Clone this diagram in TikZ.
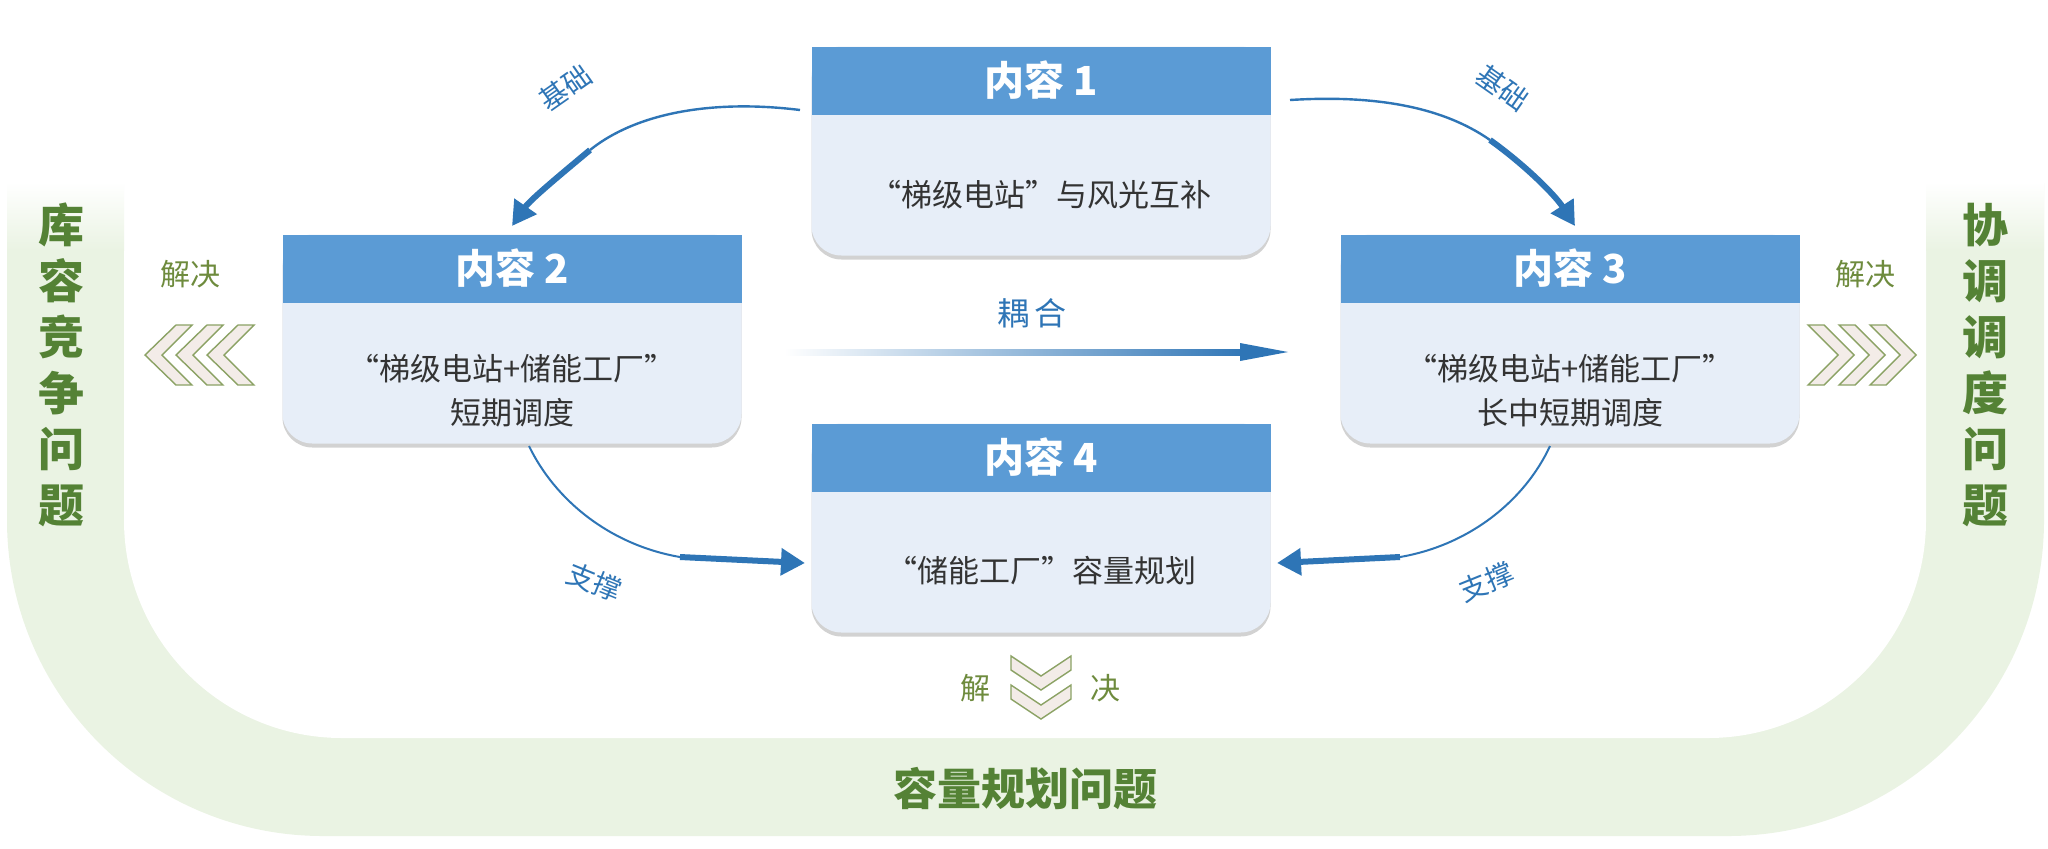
\documentclass[tikz,border=0pt]{standalone}
\usepackage{fontspec}
\setmainfont{Noto Sans CJK SC}
\usetikzlibrary{arrows.meta,shadows}
\definecolor{hdr}{HTML}{5B9BD5}
\definecolor{bdy}{HTML}{E7EEF8}
\definecolor{lbl}{HTML}{2E75B6}
\definecolor{band}{HTML}{EAF3E3}
\definecolor{gtxt}{HTML}{548235}
\definecolor{otxt}{HTML}{6E8B3D}
\definecolor{chev}{HTML}{F3ECE8}
\begin{document}
\begin{tikzpicture}[x=0.5pt,y=-0.5pt,
  body/.style={fill=bdy,draw=none,rounded corners=15pt,minimum width=229.5pt,minimum height=104.5pt,inner sep=0pt,
     drop shadow={shadow xshift=0pt,shadow yshift=-2pt,opacity=0.35,fill=gray}},
  head/.style={fill=hdr,minimum width=229.5pt,minimum height=34pt,inner sep=0pt,text=white,font=\bfseries\fontsize{20}{24}\selectfont},
  btxt/.style={text=black!80,font=\fontsize{15.5}{22}\selectfont,align=center},
  arr/.style={draw=lbl,line width=3pt,-{Triangle[length=12pt,width=13pt]}},
  alab/.style={text=lbl,font=\fontsize{14}{16}\selectfont},
  side/.style={text=gtxt,font=\bfseries\fontsize{23}{28}\selectfont,align=center},
  sol/.style={text=otxt,font=\fontsize{15}{18}\selectfont},
  chv/.style={fill=chev,draw=otxt!80,line width=0.7pt}]
\useasboundingbox (0,0) rectangle (2048,848);
% band
\fill[band,rounded corners=158pt] (7,-400) -- (7,836) -- (2044,836) -- (2044,-400) -- cycle;
\fill[white,rounded corners=109pt] (124,-400) -- (124,738) -- (1926,738) -- (1926,-400) -- cycle;
\fill[white] (0,0) rectangle (2048,183);
\shade[top color=white,bottom color=band,draw=none] (7,182) rectangle (124,250);
\shade[top color=white,bottom color=band,draw=none] (1926,182) rectangle (2044,250);
% boxes
\node[body] (b1) at (1041,151) {};
\node[head,anchor=north] (h1) at (b1.north) {内容 1};
\node[btxt] (t1) at (1041,195) {“梯级电站”与风光互补};
\node[body] (b2) at (512,339) {};
\node[head,anchor=north] (h2) at (b2.north) {内容 2};
\node[btxt] (t2) at (512,391) {“梯级电站+储能工厂”\\短期调度};
\node[body] (b3) at (1570,339) {};
\node[head,anchor=north] (h3) at (b3.north) {内容 3};
\node[btxt] (t3) at (1570,391) {“梯级电站+储能工厂”\\长中短期调度};
\node[body] (b4) at (1041,528) {};
\node[head,anchor=north] (h4) at (b4.north) {内容 4};
\node[btxt] (t4) at (1041,571) {“储能工厂”容量规划};
% arrows
\coordinate (a1s) at (800,110);
\coordinate (a1e) at (512,226);
\draw[draw=lbl,line width=1.2pt] (a1s) .. controls (720,100) and (640,110) .. (590,150);
\draw[arr] (590,150) .. controls (560,175) and (530,200) .. (a1e);
\coordinate (a2s) at (1290,100);
\coordinate (a2e) at (1575,226);
\draw[draw=lbl,line width=1.2pt] (a2s) .. controls (1370,95) and (1440,105) .. (1490,140);
\draw[arr] (1490,140) .. controls (1525,165) and (1555,195) .. (a2e);
\node[alab,rotate=35] (l1) at (565,88) {基础};
\node[alab,rotate=-35] (l2) at (1503,88) {基础};
\coordinate (c1) at (784,352);
\coordinate (c2) at (1288,352);
\shade[left color=white,right color=lbl,draw=none] (784,349) rectangle (1250,355);
\fill[lbl] (1240,343) -- (1288,352) -- (1240,361) -- cycle;
\node[alab,font=\fontsize{16}{18}\selectfont] (l3) at (1032,313) {耦\,合};
\coordinate (d1s) at (529,446);
\coordinate (d1e) at (805,563);
\draw[draw=lbl,line width=1pt] (d1s) .. controls (555,500) and (610,545) .. (680,557);
\draw[arr] (680,557) -- (d1e);
\coordinate (d2s) at (1550,446);
\coordinate (d2e) at (1277,563);
\draw[draw=lbl,line width=1pt] (d2s) .. controls (1525,500) and (1470,545) .. (1400,557);
\draw[arr] (1400,557) -- (d2e);
\node[alab,rotate=-22] (l4) at (594,582) {支撑};
\node[alab,rotate=22] (l5) at (1486,582) {支撑};
% side labels
\node[side] (s1) at (62,365) {库\\容\\竞\\争\\问\\题};
\node[side] (s2) at (1985,365) {协\\调\\调\\度\\问\\题};
\node[side,font=\bfseries\fontsize{22}{26}\selectfont] (s3) at (1025,788) {容量规划问题};
% solve markers
\node[sol] (v1) at (190,274) {解决};
\node[sol] (v2) at (1865,274) {解决};
\node[sol] (v3) at (975,688) {解};
\node[sol] (v4) at (1105,688) {决};
\foreach \x in {145,176,207}{
  \draw[chv] (\x,355) -- (\x+31,325) -- (\x+47,325) -- (\x+17,355) -- (\x+47,385) -- (\x+31,385) -- cycle;}
\foreach \x in {1822,1853,1884}{
  \draw[chv] (\x+16,355) -- (\x-14,325) -- (\x+2,325) -- (\x+32,355) -- (\x+2,385) -- (\x-14,385) -- cycle;}
\foreach \y in {656,685}{
  \draw[chv] (1011,\y) -- (1041,\y+20) -- (1071,\y) -- (1071,\y+14) -- (1041,\y+34) -- (1011,\y+14) -- cycle;}
\end{tikzpicture}
\end{document}
